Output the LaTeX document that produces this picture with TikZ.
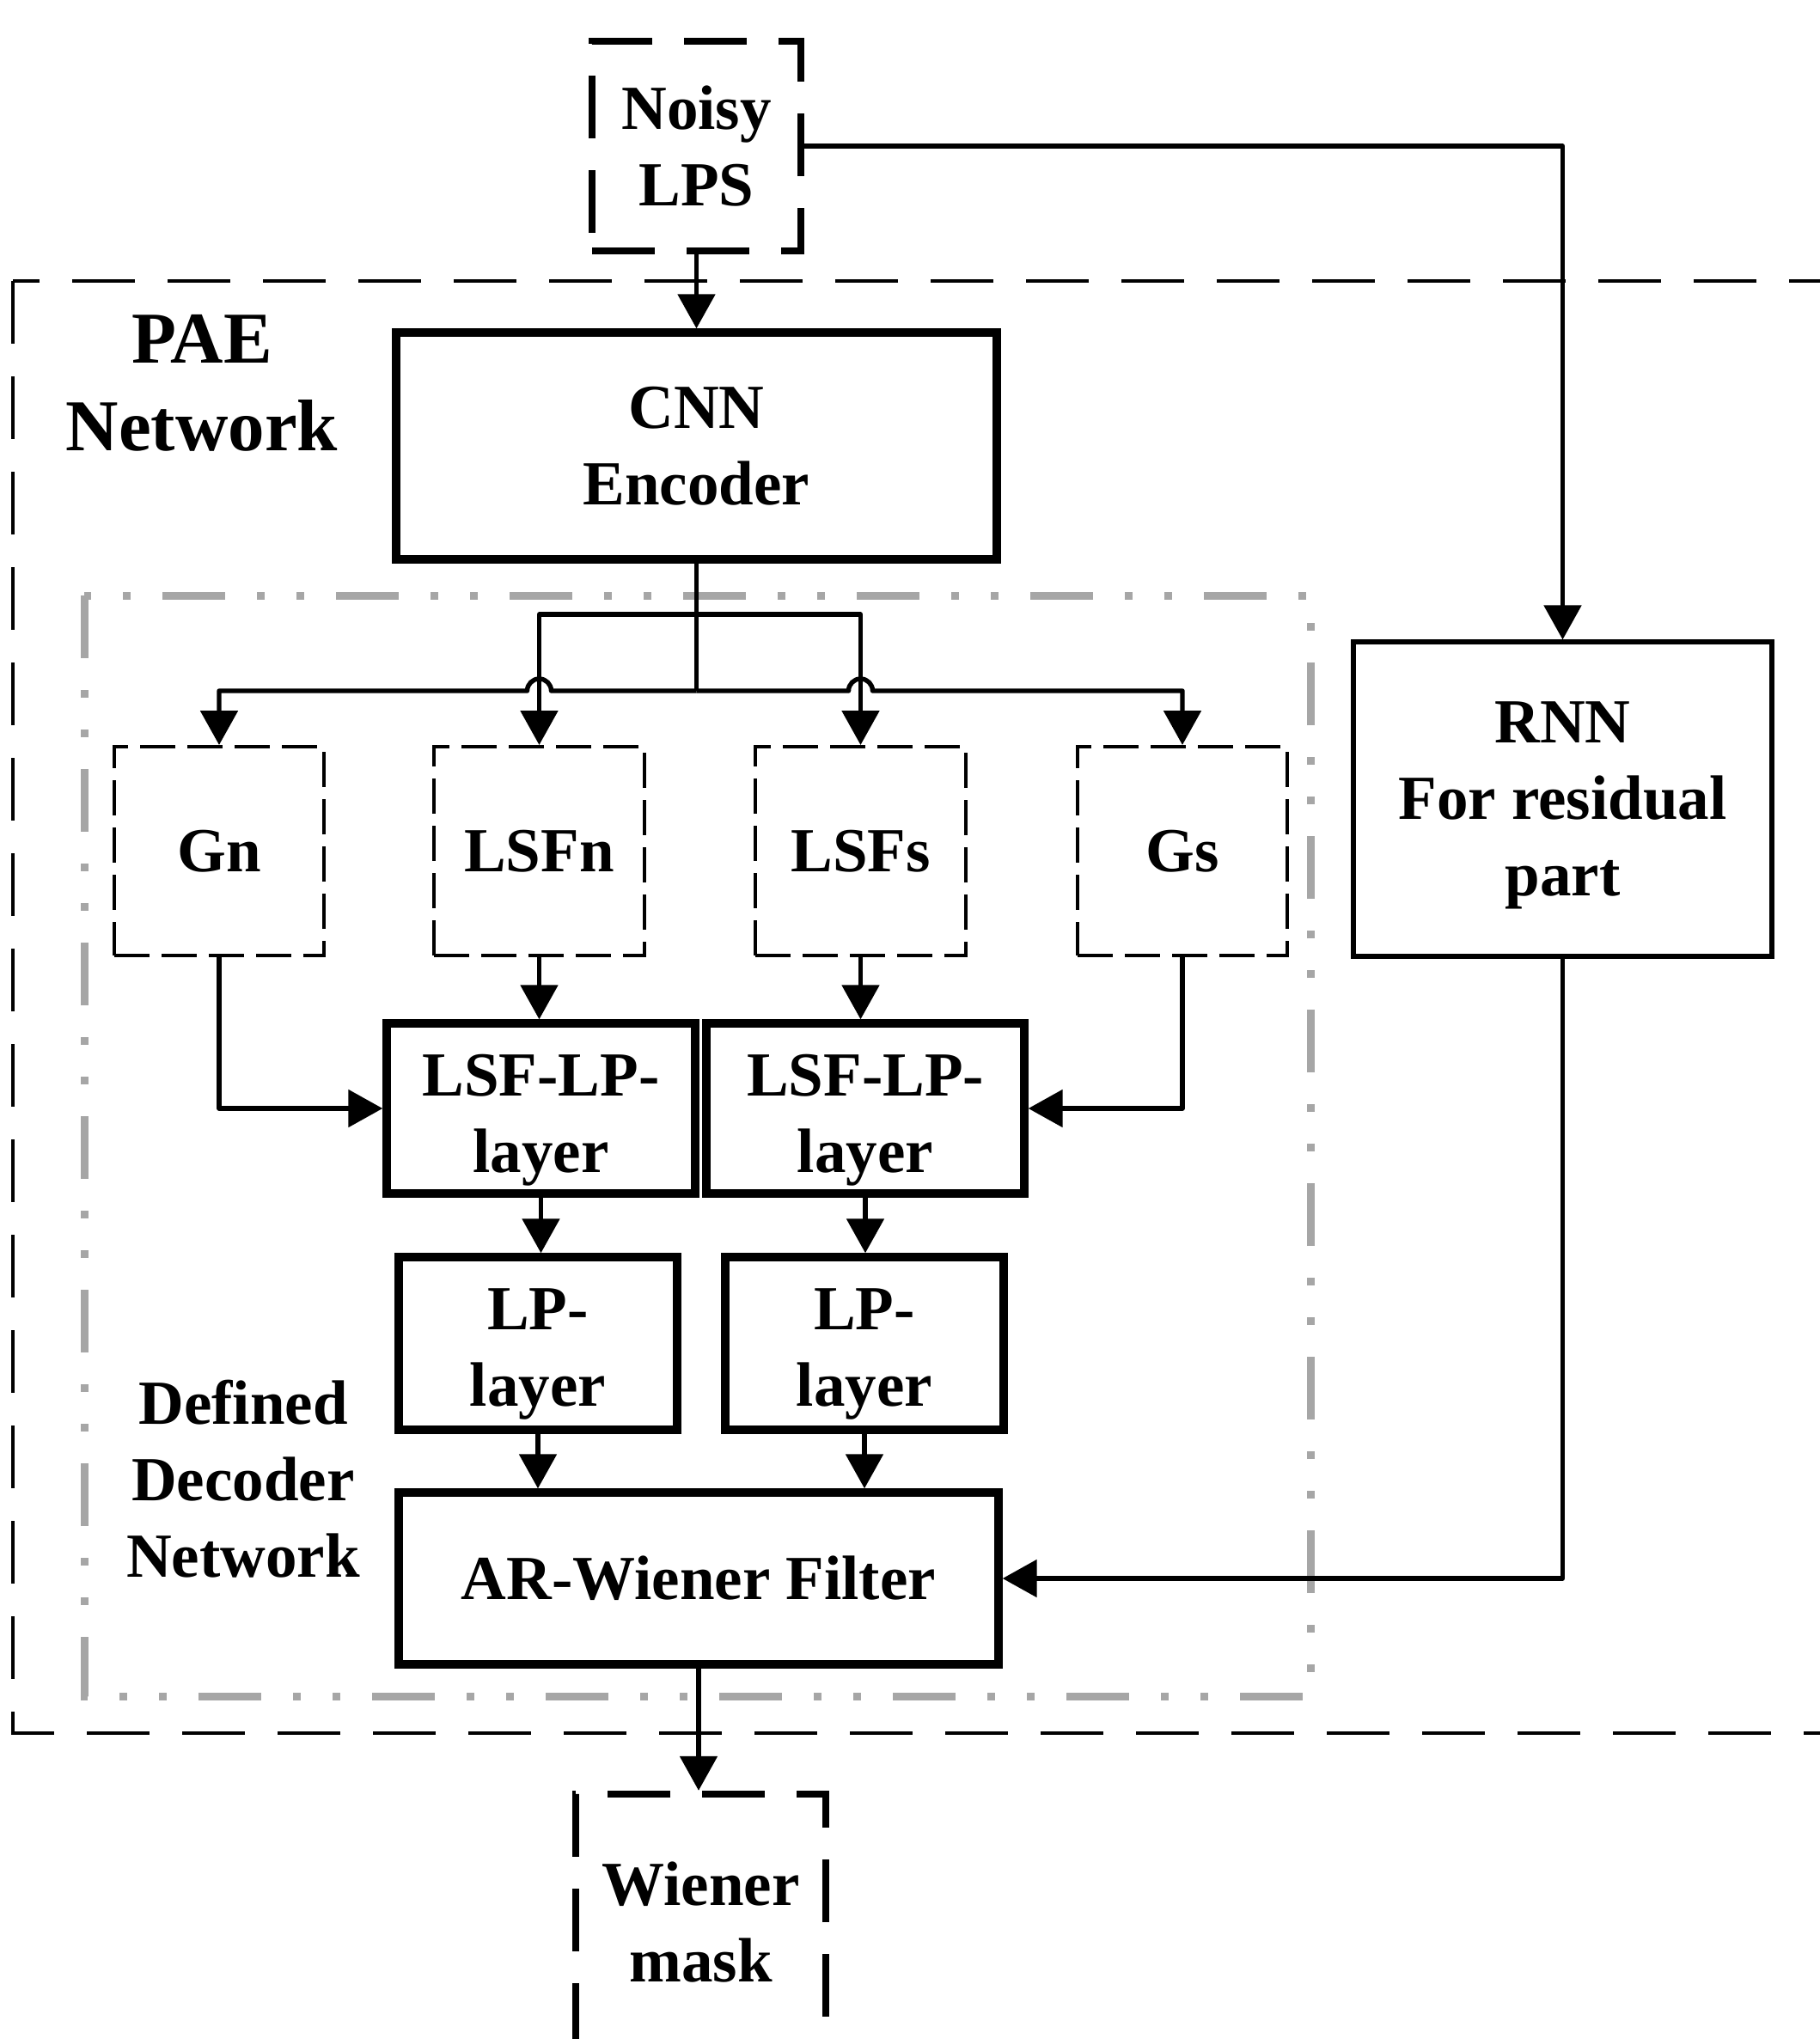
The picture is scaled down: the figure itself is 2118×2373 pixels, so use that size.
\documentclass[tikz,border=0pt]{standalone}
\usepackage{fontspec}
\setmainfont{Liberation Serif}
\usetikzlibrary{arrows.meta}
\definecolor{framegray}{HTML}{A6A6A6}
\begin{document}
\begin{tikzpicture}[x=0.5pt,y=-0.5pt,
  txt/.style={font=\fontsize{36.5}{44.5}\selectfont\bfseries, align=center, inner sep=0pt},
  bigtxt/.style={font=\fontsize{42.5}{51}\selectfont\bfseries, align=center, inner sep=0pt},
  solidbox/.style={txt, draw, line width=4.7pt},
  thinbox/.style={txt, draw, line width=2.6pt},
  iobox/.style={txt, draw, line width=4.2pt, dash pattern=on 36.5pt off 18.5pt},
  varbox/.style={txt, draw, line width=2pt, dash pattern=on 20.5pt off 7pt},
  conn/.style={line width=2.7pt, line join=round},
  arr/.style={-{Triangle[length=20pt,width=21.5pt]}},
  paeframe/.style={line width=2.3pt, dash pattern=on 36.5pt off 19pt},
  decframe/.style={line width=4.5pt, framegray, dash pattern=on 36.5pt off 18.5pt on 4.5pt off 18.5pt on 4.5pt off 18.5pt}
]
\useasboundingbox (0,0) rectangle (2118,2373);
\clip (0,0) rectangle (2118,2373);

% frames
\draw[paeframe] (15,327) rectangle (2170,2017);
\draw[decframe] (98,693) rectangle (1525,1974);

% nodes
\node[iobox, minimum width=121.5pt, minimum height=122pt] (noisy) at (810.5,170) {Noisy\\LPS};
\node[solidbox, minimum width=349.5pt, minimum height=132pt] (enc) at (810.5,519) {CNN\\Encoder};
\node[bigtxt] (pae) at (235,445.5) {PAE\\Network};

\node[varbox, minimum width=122pt, minimum height=121.5pt] (gn) at (255,990.5) {Gn};
\node[varbox, minimum width=122.5pt, minimum height=121.5pt] (lsfn) at (627.5,990.5) {LSFn};
\node[varbox, minimum width=122.5pt, minimum height=121.5pt] (lsfs) at (1001.5,990.5) {LSFs};
\node[varbox, minimum width=122pt, minimum height=121.5pt] (gs) at (1376,990.5) {Gs};

\node[solidbox, minimum width=179.5pt, minimum height=99pt] (lsflp1) at (629.5,1290) {\rule{0pt}{30pt}LSF-LP-\\la\smash{y}er};
\node[solidbox, minimum width=185pt, minimum height=99pt] (lsflp2) at (1007,1290) {\rule{0pt}{30pt}LSF-LP-\\la\smash{y}er};

\node[solidbox, minimum width=162pt, minimum height=100.5pt] (lp1) at (626,1563.5) {\rule{0pt}{29pt}LP-\\la\smash{y}er};
\node[solidbox, minimum width=162pt, minimum height=100.5pt] (lp2) at (1006,1563.5) {\rule{0pt}{29pt}LP-\\la\smash{y}er};

\node[solidbox, minimum width=349pt, minimum height=100pt] (ar) at (813,1837) {AR-Wiener Filter};

\node[thinbox, minimum width=243.5pt, minimum height=183pt] (rnn) at (1818.5,930) {RNN\\For residual\\\smash{p}art};

\node[txt] (dec) at (283,1721) {Defined\\Decoder\\Network};

\node[iobox, minimum width=145.5pt, minimum height=149pt] (wm) at (815.5,2237) {Wiener\\mask};

% junctions
\coordinate (j) at (810.5,804);
\coordinate (ju) at (810.5,715);

% connectors
\draw[conn,arr] (noisy.south) -- (enc.north);
\draw[conn,arr] (noisy.east) -| (rnn.north);
\draw[conn] (enc.south) -- (j);
\draw[conn,arr] (ju) -| (lsfn.north);
\draw[conn,arr] (ju) -| (lsfs.north);
\draw[conn,arr] (j) -- (641.5,804) arc[start angle=0,end angle=180,radius=7pt] -- (gn.north |- j) -- (gn.north);
\draw[conn,arr] (j) -- (987.5,804) arc[start angle=180,end angle=0,radius=7pt] -- (gs.north |- j) -- (gs.north);

\draw[conn,arr] (gn.south) |- (lsflp1.west);
\draw[conn,arr] (gs.south) |- (lsflp2.east);
\draw[conn,arr] (lsfn.south) -- (lsfn.south |- lsflp1.north);
\draw[conn,arr] (lsfs.south) -- (lsfs.south |- lsflp2.north);
\draw[conn,arr] (lsflp1.south) -- (lsflp1.south |- lp1.north);
\draw[conn,arr] (lsflp2.south) -- (lsflp2.south |- lp2.north);
\draw[conn,arr] (lp1.south) -- (lp1.south |- ar.north);
\draw[conn,arr] (lp2.south) -- (lp2.south |- ar.north);
\draw[conn,arr] (rnn.south) |- (ar.east);
\draw[conn,arr] (ar.south) -- (ar.south |- wm.north);
\end{tikzpicture}
\end{document}
